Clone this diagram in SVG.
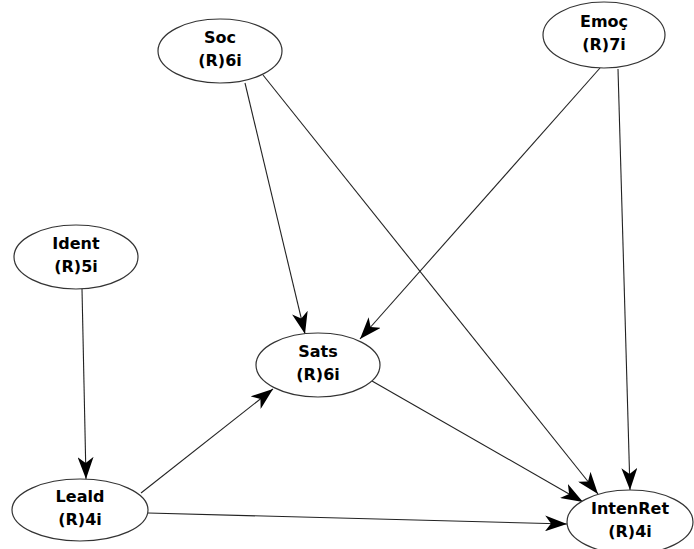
<svg xmlns="http://www.w3.org/2000/svg" width="694" height="549" viewBox="0 0 694 549">
<style>
.node ellipse{fill:#fff;stroke:#333;stroke-width:1.2}
.node text{font-family:"DejaVu Sans",Verdana,sans-serif;font-weight:bold;font-size:16px;fill:#000;text-anchor:middle}
.edges line{stroke:#222;stroke-width:1.1}
</style>
<defs>
<marker id="ah" viewBox="0 0 22 16" refX="22" refY="8" markerWidth="22" markerHeight="16" markerUnits="userSpaceOnUse" orient="auto">
<path d="M0,0 L22,8 L0,16 L6,8 z" fill="#000"/>
</marker>
</defs>
<rect width="694" height="549" fill="#fff"/>
<g class="edges">
<line x1="245" y1="83" x2="305" y2="334" marker-end="url(#ah)"/>
<line x1="263" y1="75" x2="598" y2="494" marker-end="url(#ah)"/>
<line x1="600" y1="68" x2="360" y2="339" marker-end="url(#ah)"/>
<line x1="618" y1="69" x2="630" y2="490" marker-end="url(#ah)"/>
<line x1="82" y1="289" x2="86" y2="479" marker-end="url(#ah)"/>
<line x1="141" y1="493" x2="273" y2="389" marker-end="url(#ah)"/>
<line x1="148" y1="513" x2="567" y2="524" marker-end="url(#ah)"/>
<line x1="372" y1="381" x2="583" y2="502" marker-end="url(#ah)"/>
</g>
<g id="soc" class="node"><ellipse cx="220" cy="51" rx="62" ry="32"/><text x="220" y="43">Soc</text><text x="220" y="66">(R)6i</text></g>
<g id="emoc" class="node"><ellipse cx="604" cy="35" rx="61" ry="33"/><text x="604" y="27">Emoç</text><text x="604" y="50">(R)7i</text></g>
<g id="ident" class="node"><ellipse cx="76" cy="257" rx="62" ry="32"/><text x="76" y="249">Ident</text><text x="76" y="272">(R)5i</text></g>
<g id="sats" class="node"><ellipse cx="318" cy="365" rx="62" ry="32"/><text x="318" y="357">Sats</text><text x="318" y="380">(R)6i</text></g>
<g id="leald" class="node"><ellipse cx="80" cy="510" rx="68" ry="31"/><text x="80" y="502">Leald</text><text x="80" y="525">(R)4i</text></g>
<g id="intenret" class="node"><ellipse cx="630" cy="522" rx="63" ry="32"/><text x="630" y="514">IntenRet</text><text x="630" y="537">(R)4i</text></g>
</svg>
